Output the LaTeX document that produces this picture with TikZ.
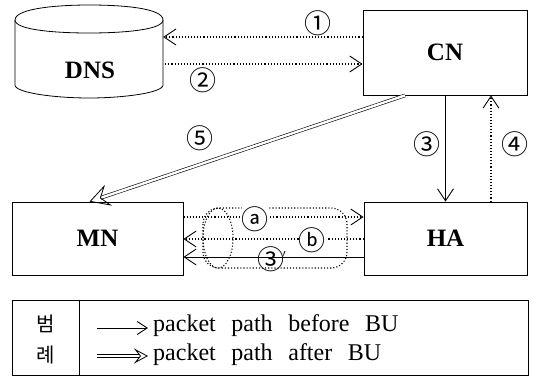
\documentclass[tikz,border=0pt]{standalone}
\usepackage{fontspec}
\setmainfont{Liberation Serif}
\newfontfamily\cjk{Noto Sans CJK KR}
\newfontfamily\kserif{Noto Sans CJK KR}
\usetikzlibrary{arrows.meta,calc}
\begin{document}
\begin{tikzpicture}[x=1pt,y=-1pt,
  box/.style={draw,line width=0.8pt,minimum width=#1,minimum height=73pt,inner sep=0pt,font=\fontsize{25}{28}\selectfont\bfseries},
  lbl/.style={font=\cjk\fontsize{27}{28}\selectfont,inner sep=0pt},
  tip/.style={arrows={-Straight Barb[length=12pt,width=16pt,line width=0.9pt]}},
  dotarrow/.style={tip,dotted,line width=1.1pt},
  solidarrow/.style={tip,line width=0.9pt},
  dblarrow/.style={double,double distance=2.4pt,line width=0.6pt,arrows={-Stealth[open,length=20pt,width=22pt,inset=8pt,line width=0.8pt]}}
]
\useasboundingbox (0,0) rectangle (541,386);
% DNS cylinder
\node[minimum width=148pt,minimum height=89pt,inner sep=0pt] (dns) at (89,52.5) {};
\draw[line width=0.8pt] (15,20) .. controls (15,8) and (60,5) .. (89,5) .. controls (122,5) and (163,8) .. (163,20)
   .. controls (163,30) and (122,33) .. (89,33) .. controls (56,33) and (15,30) .. (15,20) -- cycle;
\draw[line width=0.8pt] (15,20) -- (15,85) .. controls (15,93) and (56,98) .. (89,98) .. controls (122,98) and (163,93) .. (163,85) -- (163,20);
\node[font=\fontsize{25}{28}\selectfont\bfseries] (dnstext) at (90,70) {DNS};
% boxes
\node[box=164pt,minimum height=85pt] (cn) at (445,52.5) {CN};
\node[box=171pt] (mn) at (97.5,238.5) {MN};
\node[box=163pt] (ha) at (445.5,238.5) {HA};
% DNS <-> CN
\draw[dotarrow] ([yshift=15.5pt]cn.west) -- ([yshift=15.5pt]dns.east);
\draw[dotarrow] ([yshift=-11.5pt,xshift=2pt]dns.east) -- ([yshift=-11.5pt]cn.west);
\node[lbl] (l1) at (318,23) {①};
\node[lbl] (l2) at (203,80) {②};
% CN -> MN (after BU)
\draw[dblarrow] ([xshift=-40pt]cn.south) -- ([xshift=-8pt]mn.north);
\node[lbl] (l5) at (200,138) {⑤};
% CN -> HA and HA -> CN
\draw[solidarrow] ([xshift=0.5pt]cn.south) -- (ha.north);
\node[lbl] (l3) at (427,144) {③};
\draw[dotarrow] ([xshift=45.5pt]ha.north) -- ([xshift=46pt]cn.south);
\node[lbl] (l4) at (515,144) {④};
% tunnel
\draw[dotted,line width=1.1pt,rounded corners=16pt] (203,208) rectangle (347,268);
\draw[dotted,line width=1.1pt] (218,238) ellipse [x radius=15pt,y radius=30pt];
% MN <-> HA
\draw[dotarrow] ([yshift=21.5pt]mn.east) -- ([yshift=21.5pt]ha.west);
\draw[dotarrow] ([yshift=-0.5pt]ha.west) -- ([yshift=-0.5pt]mn.east);
\draw[solidarrow] ([yshift=-18.5pt]ha.west) -- ([yshift=-18.5pt]mn.east);
\node[lbl,fill=white] (la) at (255,219) {ⓐ};
\node[lbl,fill=white] (lb) at (312,240) {ⓑ};
\node[lbl] (l3p) at (272,259) {③\kern-2pt\raisebox{5pt}{\rmfamily\fontsize{16}{16}\selectfont$'$}};
% legend
\node[draw,line width=0.8pt,minimum width=516pt,minimum height=75pt,inner sep=0pt] (legend) at (270,337.5) {};
\draw[line width=0.8pt] ([xshift=68pt]legend.north west) -- ([xshift=68pt]legend.south west);
\node[font=\kserif\fontsize{20}{22}\selectfont] (k1) at (46,324) {범};
\node[font=\kserif\fontsize{20}{22}\selectfont] (k2) at (46,355) {례};
\node[anchor=west,font=\fontsize{24}{26}\selectfont,inner sep=0pt] (t1) at (153,326) {packet\hspace{0.65em}path\hspace{0.65em}before\hspace{0.65em}BU};
\node[anchor=west,font=\fontsize{24}{26}\selectfont,inner sep=0pt] (t2) at (153,355) {packet\hspace{0.65em}path\hspace{0.65em}after\hspace{0.65em}BU};
\coordinate (s1) at (97,328);
\coordinate (s2) at (97,356);
\draw[line width=0.9pt,arrows={-Straight Barb[length=10pt,width=13pt,line width=0.9pt]}] (s1) -- ([xshift=-5pt]t1.west |- s1);
\draw[double,double distance=2.4pt,line width=0.6pt,arrows={-Stealth[open,length=14pt,width=15pt,inset=6pt,line width=0.8pt]}] (s2) -- ([xshift=-5pt]t2.west |- s2);
\end{tikzpicture}
\end{document}
